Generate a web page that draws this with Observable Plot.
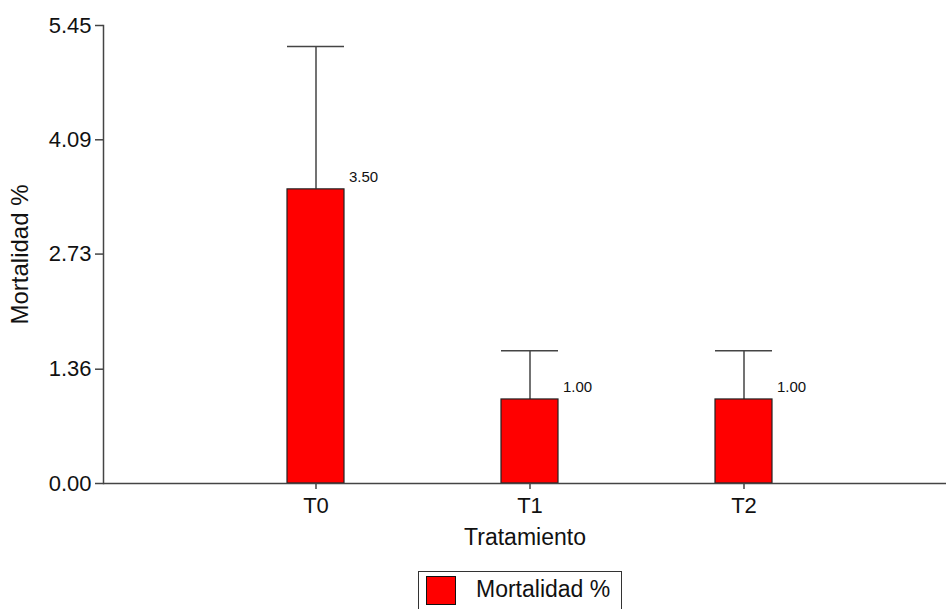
<!DOCTYPE html>
<html><head><meta charset="utf-8">
<script src="https://cdn.jsdelivr.net/npm/d3@7"></script>
<script src="https://cdn.jsdelivr.net/npm/@observablehq/plot@0.6"></script>
<style>
html,body{margin:0;padding:0;background:#fff;overflow:hidden;font-family:"Liberation Sans",Arial,sans-serif;}
#wrap{position:relative;width:946px;height:609px;}
#legend{position:absolute;left:418px;top:571px;width:204px;height:50px;border:1px solid #333;box-sizing:border-box;background:#fff;}
#legend .sw{position:absolute;left:7px;top:4px;width:30px;height:29px;background:#ff0000;border:1px solid #111;box-sizing:border-box;}
#legend .lb{position:absolute;left:57px;top:4px;font-size:23px;color:#111;white-space:nowrap;}
</style></head><body>
<div id="wrap"><div id="chart"></div><div id="legend"><span class="sw"></span><span class="lb"></span></div></div>
<script>
const tratamientos = ["T0", "T1", "T2"];
const medias = [3.50, 1.00, 1.00];
const superiores = [5.20, 1.58, 1.58];
const yTicks = [0, 1.36, 2.73, 4.09, 5.45];
const serie = "Mortalidad %";
const xTitulo = "Tratamiento";

const data = tratamientos.map((t, i) => ({trat: t, media: medias[i], sup: superiores[i]}));
const fmt = d3.format(".2f");
const lineColor = "#444";

const plot = Plot.plot({
  width: 946, height: 560,
  marginLeft: 103, marginRight: 0, marginTop: 25, marginBottom: 77,
  style: {fontFamily: "Liberation Sans, Arial, sans-serif", fontSize: "22px", color: "#111", background: "#fff"},
  x: {type: "band", domain: tratamientos, range: [208, 850], paddingInner: 0.734, paddingOuter: 0.367, align: 0.5},
  y: {domain: [0, 5.45]},
  marks: [
    Plot.ruleX(data, {x: "trat", y1: "media", y2: "sup", stroke: lineColor, strokeWidth: 1.5}),
    Plot.tickY(data, {x: "trat", y: "sup", stroke: lineColor, strokeWidth: 1.5}),
    Plot.barY(data, {x: "trat", y: "media", fill: "#ff0000", stroke: "#222", strokeWidth: 1.2}),
    Plot.text(data, {x: "trat", y: "media", text: d => fmt(d.media), dx: 33, dy: -12, textAnchor: "start", fontSize: 15, fill: "#111"}),
    Plot.frame({anchor: "left", stroke: lineColor, strokeWidth: 1.5}),
    Plot.ruleY([0], {stroke: lineColor, strokeWidth: 1.5}),
    Plot.axisY({ticks: [], label: serie, labelAnchor: "center", labelOffset: 93, labelArrow: "none", fontSize: 24}),
    Plot.axisY({ticks: yTicks, tickFormat: fmt, tickSize: 8, tickPadding: 4, stroke: lineColor, strokeWidth: 1.5, label: null}),
    Plot.axisX({ticks: [], label: xTitulo, labelAnchor: "center", labelOffset: 61, labelArrow: "none", fontSize: 23}),
    Plot.axisX({tickSize: 6, tickPadding: 8, stroke: lineColor, strokeWidth: 1.5, label: null})
  ]
});
document.getElementById("chart").appendChild(plot);
document.querySelector("#legend .lb").textContent = serie;
</script>
</body></html>
